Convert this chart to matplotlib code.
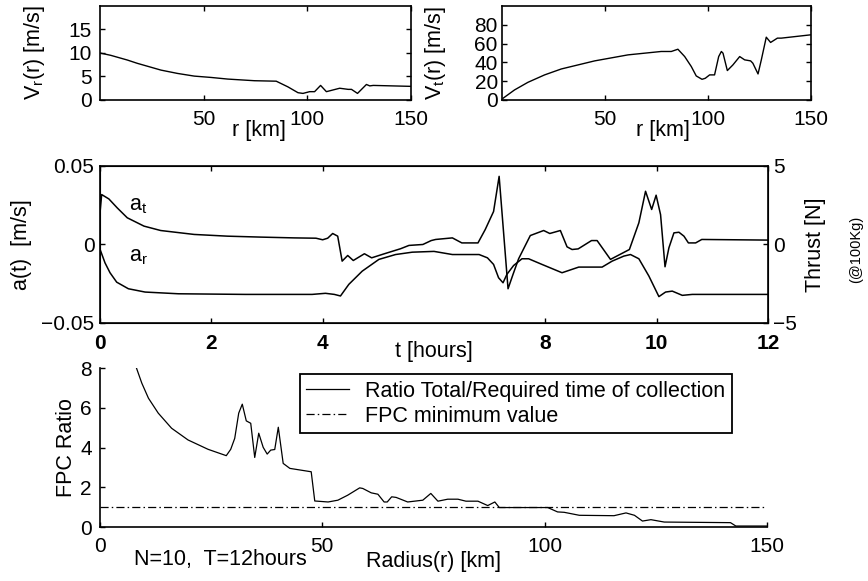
import matplotlib
matplotlib.use("Agg")
import matplotlib.pyplot as plt

plt.rcParams['font.family'] = ['Liberation Sans', 'DejaVu Sans']
plt.rcParams['mathtext.fontset'] = 'custom'
plt.rcParams['mathtext.rm'] = 'Liberation Sans'
plt.rcParams['mathtext.it'] = 'Liberation Sans'
plt.rcParams['mathtext.default'] = 'regular'
plt.rcParams['axes.unicode_minus'] = True

FS = 15      # tick labels
LFS = 15.5   # axis labels / texts / legend

# ---------------- data ----------------
r_vr = [0, 5.2, 13.2, 18, 29.4, 37.4, 45.5, 53.5, 61.6, 74.5, 85, 90.6, 95.5, 97.9,
        101.1, 103.5, 106.4, 109.2, 115.6, 119.7, 121.3, 124.2, 128.5, 130.1, 131.8, 150]
vr = [10.0, 9.5, 8.5, 7.8, 6.36, 5.65, 5.08, 4.8, 4.45, 4.1, 4.0, 2.8, 1.55, 1.4,
      1.77, 1.77, 3.1, 1.77, 2.5, 2.26, 2.26, 1.4, 3.3, 3.0, 3.1, 2.9]

r_vt = [0.5, 6.1, 12.6, 20.7, 28.8, 45, 61.2, 77.3, 82.2, 85.4, 88.7, 91.9, 94.3, 97.1,
        98.7, 100.8, 103.2, 105.2, 106.5, 107.3, 109.4, 112.1, 115.4, 117.8, 120.7, 121.8,
        124.3, 125.9, 128.3, 130.4, 133.7, 135.6, 149.8]
vt = [1.8, 10.7, 18.8, 26.7, 33, 41.6, 48, 51.6, 51.6, 54, 46.2, 35.6, 25.6, 22,
      23.1, 26.7, 26.7, 46.2, 51.6, 49.8, 31.3, 37.3, 46.2, 42.7, 41.6, 39.1,
      27.7, 42.7, 66.8, 61.2, 65.8, 65.8, 69.3]

t_at = [0, 0.03, 0.16, 0.31, 0.49, 0.79, 1.09, 1.69, 2.29, 2.89, 3.49, 3.88, 4.0, 4.09,
        4.18, 4.27, 4.35, 4.45, 4.55, 4.75, 4.88, 5.1, 5.4, 5.55, 5.8, 5.95, 6.03, 6.33,
        6.5, 6.79, 6.92, 7.07, 7.17, 7.33, 7.42, 7.52, 7.73, 7.97, 8.08, 8.27, 8.39, 8.48,
        8.59, 8.83, 8.93, 9.17, 9.51, 9.68, 9.8, 9.91, 9.99, 10.07, 10.15, 10.22, 10.31,
        10.4, 10.49, 10.57, 10.7, 10.81, 12.0]
a_t = [0.02, 0.0318, 0.029, 0.0233, 0.017, 0.0117, 0.0089, 0.0064, 0.0053, 0.0047, 0.0042,
       0.004, 0.003, 0.004, 0.007, 0.0053, -0.0106, -0.007, -0.0102, -0.0059, -0.0085,
       -0.006, -0.0027, -0.0006, 0.0, 0.0025, 0.0032, 0.0042, 0.001, 0.001, 0.0095, 0.021,
       0.0434, -0.0282, -0.019, -0.0091, 0.0057, 0.0089, 0.007, 0.0089, -0.0015, -0.0032,
       -0.0028, 0.0025, 0.0025, -0.0095, -0.0032, 0.0138, 0.0339, 0.0223, 0.0314, 0.019,
       -0.0142, -0.0021, 0.0074, 0.0078, 0.0053, 0.001, 0.001, 0.0032, 0.0028]

t_ar = [0, 0.09, 0.18, 0.3, 0.51, 0.81, 1.41, 2.61, 3.81, 4.05, 4.21, 4.32, 4.47, 4.71,
        5.01, 5.31, 5.61, 6.0, 6.33, 6.81, 6.96, 7.07, 7.16, 7.24, 7.31, 7.43, 7.58, 7.7,
        7.94, 8.3, 8.6, 9.02, 9.2, 9.41, 9.53, 9.68, 9.86, 10.04, 10.16, 10.28, 10.46,
        10.64, 12.0]
a_r = [-0.003, -0.0117, -0.018, -0.024, -0.0282, -0.0303, -0.0314, -0.0318, -0.0318,
       -0.0311, -0.0318, -0.0328, -0.0254, -0.017, -0.0095, -0.0064, -0.0049, -0.0044,
       -0.0064, -0.0064, -0.0085, -0.0127, -0.0212, -0.0244, -0.019, -0.0134, -0.0091,
       -0.0091, -0.0127, -0.018, -0.0144, -0.0144, -0.0106, -0.0074, -0.0064, -0.0091,
       -0.0201, -0.0332, -0.0303, -0.0297, -0.0324, -0.0318, -0.0318]

r_fpc = [8.2, 9.4, 10.9, 13.1, 16.1, 19.8, 24.3, 28.4, 29.4, 30.3, 31.2, 32.0, 32.9, 33.9,
         34.8, 35.7, 36.7, 37.6, 38.4, 39.3, 40.1, 41.2, 42.7, 47.5, 48.3, 51.3, 53.5,
         55.7, 58.4, 59.1, 61.0, 62.5, 63.9, 64.6, 65.6, 66.6, 69.2, 72.6, 74.4, 76.0,
         78.2, 80.5, 82.3, 85.0, 87.2, 88.8, 89.8, 100.7, 102.9, 104.4, 107.8, 115.6,
         118.3, 120.2, 122.0, 123.9, 126.9, 141.8, 143.0, 149.9]
fpc = [8.0, 7.24, 6.48, 5.73, 4.97, 4.38, 3.91, 3.59, 3.91, 4.46, 5.73, 6.18, 5.34, 5.22,
       3.5, 4.72, 4.01, 3.67, 3.87, 3.9, 5.02, 3.2, 2.95, 2.78, 1.31, 1.26, 1.35,
       1.6, 1.97, 1.94, 1.72, 1.65, 1.26, 1.26, 1.52, 1.49, 1.26, 1.35, 1.69, 1.3,
       1.4, 1.4, 1.3, 1.3, 1.08, 1.26, 0.98, 0.98, 0.76, 0.74, 0.59, 0.57,
       0.71, 0.59, 0.3, 0.37, 0.25, 0.22, 0.05, 0.05]
fpc_min_r = [0, 150]
fpc_min = [1.0, 1.0]

legend_labels = ['Ratio Total/Required time of collection', 'FPC minimum value']

# ---------------- figure ----------------
fig = plt.figure(figsize=(8.68, 5.81), dpi=100)

def style(ax, xpad=8, ypad=5, box=True):
    ax.tick_params(direction='in', length=3.5, width=1.0, labelsize=FS,
                   top=box, right=box, colors='black')
    ax.tick_params(axis='x', pad=xpad)
    ax.tick_params(axis='y', pad=ypad)
    for s in ax.spines.values():
        s.set_linewidth(1.2)
    if not box:
        ax.spines['top'].set_visible(False)
        ax.spines['right'].set_visible(False)

# top-left
ax1 = fig.add_axes([0.1152, 0.8279, 0.3583, 0.1618])
ax1.plot(r_vr, vr, color='black', lw=1.0)
ax1.set_xlim(0, 150)
ax1.set_ylim(0, 20)
ax1.set_xticks([50, 100, 150])
ax1.set_yticks([0, 5, 10, 15])
style(ax1, xpad=7, ypad=6)
ax1.set_xlabel('r [km]', fontsize=LFS)
ax1.xaxis.set_label_coords(0.51, -0.21)
ax1.set_ylabel('V$_r$(r) [m/s]', fontsize=LFS)
ax1.yaxis.set_label_coords(-0.17, 0.5)

# top-right
ax2 = fig.add_axes([0.5783, 0.8279, 0.356, 0.1618])
ax2.plot(r_vt, vt, color='black', lw=1.0)
ax2.set_xlim(0, 150)
ax2.set_ylim(0, 100)
ax2.set_xticks([50, 100, 150])
ax2.set_yticks([0, 20, 40, 60, 80])
style(ax2, xpad=7, ypad=3)
ax2.set_xlabel('r [km]', fontsize=LFS)
ax2.xaxis.set_label_coords(0.52, -0.21)
ax2.set_ylabel('V$_t$(r) [m/s]', fontsize=LFS)
ax2.yaxis.set_label_coords(-0.175, 0.5)

# middle
ax3 = fig.add_axes([0.1152, 0.4441, 0.7696, 0.2702])
ax3.plot(t_at, a_t, color='black', lw=1.1)
ax3.plot(t_ar, a_r, color='black', lw=1.1)
ax3.set_xlim(0, 12)
ax3.set_ylim(-0.05, 0.05)
ax3.set_xticks([0, 2, 4, 8, 10, 12])
ax3.set_xticklabels(['0', '2', '4', '8', '10', '12'], fontweight='bold')
ax3.set_yticks([-0.05, 0, 0.05])
ax3.set_yticklabels(['\u22120.05', '0', '0.05'])
ax3.tick_params(direction='in', length=3.5, width=1.0, labelsize=FS, top=True, right=False)
ax3.tick_params(axis='x', pad=8)
ax3.tick_params(axis='y', pad=4)
for s in ax3.spines.values():
    s.set_linewidth(1.2)
ax3.set_xlabel('t [hours]', fontsize=LFS)
ax3.xaxis.set_label_coords(0.5, -0.115)
ax3.set_ylabel('a(t)  [m/s]', fontsize=LFS)
ax3.yaxis.set_label_coords(-0.102, 0.5)
ax3.text(0.52, 0.022, 'a$_t$', fontsize=LFS, ha='left', va='baseline')
ax3.text(0.52, -0.0108, 'a$_r$', fontsize=LFS, ha='left', va='baseline')

ax3r = ax3.twinx()
ax3r.set_ylim(-5, 5)
ax3r.set_yticks([-5, 0, 5])
ax3r.set_yticklabels(['\u22125', '0', '5'])
ax3r.tick_params(direction='in', length=3.5, width=1.0, labelsize=FS, pad=3.5)
ax3r.set_ylabel('Thrust [N]', fontsize=LFS)
ax3r.yaxis.set_label_coords(1.055, 0.5)
fig.text(856 / 868, 1 - 249 / 581, '(@100Kg)', fontsize=10.5, rotation=90,
         ha='center', va='center')

# bottom
ax4 = fig.add_axes([0.1152, 0.0929, 0.7684, 0.2737])
l1, = ax4.plot(r_fpc, fpc, color='black', lw=0.9)
l2, = ax4.plot(fpc_min_r, fpc_min, color='black', lw=0.9,
               linestyle=(0, (6.5, 2.5, 1.2, 2.5)))
ax4.set_xlim(0, 150)
ax4.set_ylim(0, 8)
ax4.set_xticks([0, 50, 100, 150])
ax4.set_yticks([0, 2, 4, 6, 8])
style(ax4, xpad=7, ypad=6, box=False)
ax4.set_xlabel('Radius(r) [km]', fontsize=LFS)
ax4.xaxis.set_label_coords(0.5, -0.15)
ax4.set_ylabel('FPC Ratio', fontsize=LFS)
ax4.yaxis.set_label_coords(-0.035, 0.5)
leg = ax4.legend([l1, l2], legend_labels, loc='upper right',
                 bbox_to_anchor=(0.9475, 0.962), fontsize=LFS, fancybox=False,
                 framealpha=1, edgecolor='black', handlelength=2.0,
                 handletextpad=0.75, labelspacing=0.2, borderpad=0.3,
                 borderaxespad=0)
leg.get_frame().set_linewidth(1.3)
fig.text(220 / 868, 1 - 559.5 / 581, 'N=10,  T=12hours', fontsize=LFS,
         ha='center', va='center')

fig.savefig('out.png', dpi=100)
